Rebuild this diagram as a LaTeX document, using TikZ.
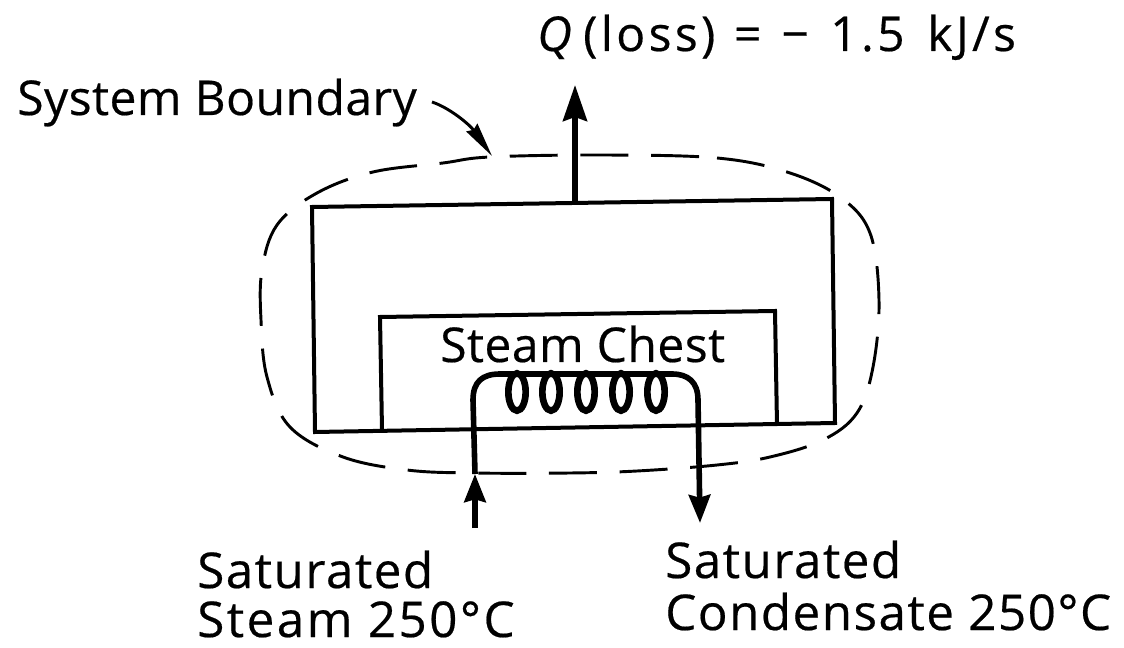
\documentclass[tikz,border=0pt]{standalone}
\usepackage{fontspec}
\setmainfont[FakeBold=0.4]{Open Sans}
\usetikzlibrary{arrows.meta}
\newcommand{\spc}[1]{\addfontfeature{LetterSpace=#1}}
\tikzset{
  px/.style={x=0.75pt,y=-0.75pt},
  wall/.style={line width=3pt,line join=miter,black},
  pipe/.style={line width=4.2pt,black},
  coilloop/.style={line width=5pt,black},
  bound/.style={line width=2.2pt,dash pattern=on 36pt off 17pt,black},
  flow/.style={pipe,-{Stealth[length=21pt,width=16pt,inset=2pt]}},
  bigflow/.style={pipe,-{Stealth[length=27pt,width=18pt,inset=3pt]}},
  lbl/.style={inner sep=0pt,anchor=base west,font=\fontsize{36}{42}\selectfont,text=black},
  lead/.style={line width=2.2pt,-{Stealth[length=26pt,width=10pt,inset=2pt]}}
}
\begin{document}
\begin{tikzpicture}[px]
\useasboundingbox[fill=white] (0,0) rectangle (1124,648);
% outer box
\coordinate (oa) at (312,207); \coordinate (ob) at (832,199);
\coordinate (oc) at (835,423); \coordinate (od) at (315,432);
\draw[wall] (oa) -- (ob) -- (oc) -- (od) -- cycle;
% inner box
\coordinate (ia) at (382,430); \coordinate (ib) at (380,317);
\coordinate (ic) at (775,311); \coordinate (id) at (777,425);
\draw[wall] (ia) -- (ib) -- (ic) -- (id);
% system boundary
\draw[bound] plot[smooth cycle,tension=0.6] coordinates {
 (603,155) (717,158) (787,172) (840,197) (870,233) (879,300) (873,367)
 (857,413) (823,440) (770,457) (717,465) (637,471) (570,473) (473,473)
 (407,470) (343,457) (290,427) (267,377) (261,320) (262,270) (277,225)
 (317,193) (373,172) (443,163) (490,157)};
% labels
\node[lbl] (sb) at (17,115) {\spc{1}System Boundary};
\node[lbl] (q) at (537,51) {\spc{7}\textit{Q}\hspace{6pt}(loss)\hspace{14pt}=\hspace{15pt}−\hspace{16pt}1.5\hspace{17pt}kJ/s};
\node[lbl] (sc) at (440,362) {\spc{1}Steam Chest};
\node[lbl,font=\fontsize{37}{42}\selectfont] (s1) at (197,588) {\spc{3}Saturated};
\node[lbl,font=\fontsize{37}{42}\selectfont] (s2) at (197,637) {\spc{5}Steam 250°C};
\node[lbl,font=\fontsize{37}{42}\selectfont] (c1) at (665,578) {\spc{3}Saturated};
\node[lbl,font=\fontsize{37}{42}\selectfont] (c2) at (665,630) {\spc{3}Condensate 250°C};
% heat loss
\coordinate (ql) at (575,202); \coordinate (qt) at (575,85);
\draw[bigflow] (ql) -- (qt);
% leader
\coordinate (la) at (432,102); \coordinate (lb) at (492,156);
\draw[lead] (la) .. controls (450,108) and (470,125) .. (lb);
% coil pipe
\coordinate (inl) at (475,528); \coordinate (inm) at (475,474);
\coordinate (bl) at (473,400); \coordinate (cl) at (500,374);
\coordinate (cr) at (672,374); \coordinate (br) at (698,400);
\coordinate (outm) at (700,523);
\draw[flow] (inl) -- (inm);
\draw[pipe] (inm) -- (bl) .. controls (473,382) and (482,374) .. (cl) -- (cr);
\foreach \cx in {517,551,586,621,656}
  \draw[coilloop] (\cx,392) ellipse [x radius=6.5pt,y radius=14pt];
\draw[flow] (cr) .. controls (688,374) and (698,382) .. (br) -- (outm);
\end{tikzpicture}
\end{document}
